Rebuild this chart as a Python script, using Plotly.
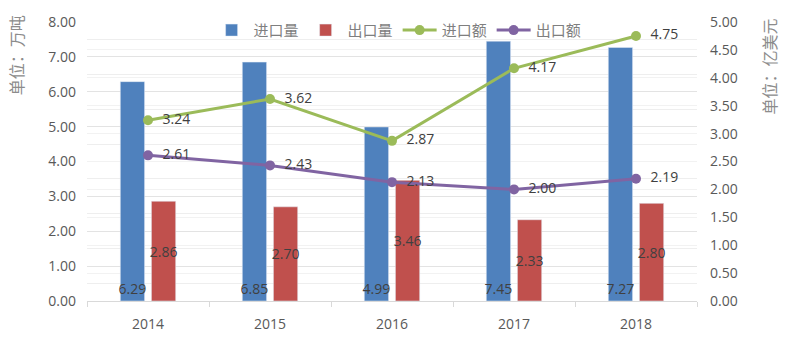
import plotly.graph_objects as go

years = ["2014", "2015", "2016", "2017", "2018"]
import_vol = [6.29, 6.85, 4.99, 7.45, 7.27]
export_vol = [2.86, 2.70, 3.46, 2.33, 2.80]
import_val = [3.24, 3.62, 2.87, 4.17, 4.75]
export_val = [2.61, 2.43, 2.13, 2.00, 2.19]

label_font = dict(family="Open Sans, Lato, sans-serif", size=14, color="#404040")
cjk = "Noto Sans CJK SC, sans-serif"

fig = go.Figure()
fig.add_trace(go.Bar(
    x=years, y=import_vol, name="进口量", marker_color="#4F81BD",
    text=[f"{v:.2f}" for v in import_vol], textposition="inside",
    insidetextanchor="start", constraintext="none", textangle=0,
    insidetextfont=label_font, cliponaxis=False, yaxis="y"))
fig.add_trace(go.Bar(
    x=years, y=export_vol, name="出口量", marker_color="#C0504D",
    text=[f"{v:.2f}" for v in export_vol], textposition="inside",
    insidetextanchor="middle", constraintext="none", textangle=0,
    insidetextfont=label_font, cliponaxis=False, yaxis="y"))
fig.add_trace(go.Scatter(
    x=years, y=import_val, name="进口额", mode="lines+markers+text",
    line=dict(color="#9BBB59", width=3), marker=dict(size=10, color="#9BBB59"),
    text=[f"\u00a0\u00a0{v:.2f}" for v in import_val], textposition="middle right",
    textfont=label_font, yaxis="y2", cliponaxis=False))
fig.add_trace(go.Scatter(
    x=years, y=export_val, name="出口额", mode="lines+markers+text",
    line=dict(color="#8064A2", width=3), marker=dict(size=10, color="#8064A2"),
    text=[f"\u00a0\u00a0{v:.2f}" for v in export_val], textposition="middle right",
    textfont=label_font, yaxis="y2", cliponaxis=False))

tick_font = dict(family="Open Sans, Lato, sans-serif", size=14, color="#595959")

fig.update_layout(
    width=790, height=348,
    margin=dict(l=87, r=93, t=14, b=47),
    paper_bgcolor="white", plot_bgcolor="white",
    barmode="group", bargap=0.49, bargroupgap=0.22,
    showlegend=True,
    legend=dict(orientation="h", x=0.51, xanchor="center", y=0.97, yanchor="middle",
                font=dict(family=cjk, size=15, color="#7f7f7f"),
                bgcolor="rgba(0,0,0,0)", itemwidth=34, tracegroupgap=0),
    xaxis=dict(type="category", showgrid=False, showline=True, linecolor="#d9d9d9",
               ticks="outside", tickson="boundaries", ticklen=5, tickcolor="#d9d9d9",
               tickfont=tick_font, ticklabelstandoff=10),
    yaxis=dict(range=[0, 8], dtick=1, tickformat=".2f", showgrid=True,
               gridcolor="#e3e3e3", gridwidth=1, zeroline=False, showline=False,
               minor=dict(dtick=0.5, showgrid=True, gridcolor="#eeeeee"),
               tickfont=tick_font, ticklabelstandoff=10),
    yaxis2=dict(range=[0, 5], dtick=0.5, tickformat=".2f", overlaying="y", side="right",
                showgrid=True, gridcolor="#f2f2f2", zeroline=False, showline=False,
                tickfont=tick_font, ticklabelstandoff=12),
    annotations=[
        dict(text="单位：万吨", xref="paper", yref="paper", x=-0.117, y=1.03,
             xanchor="center", yanchor="top", textangle=-90, showarrow=False,
             font=dict(family=cjk, size=16, color="#8c8c8c")),
        dict(text="单位：亿美元", xref="paper", yref="paper", x=1.118, y=1.02,
             xanchor="center", yanchor="top", textangle=-90, showarrow=False,
             font=dict(family=cjk, size=16, color="#8c8c8c")),
    ],
)

fig.write_html("out.html")
